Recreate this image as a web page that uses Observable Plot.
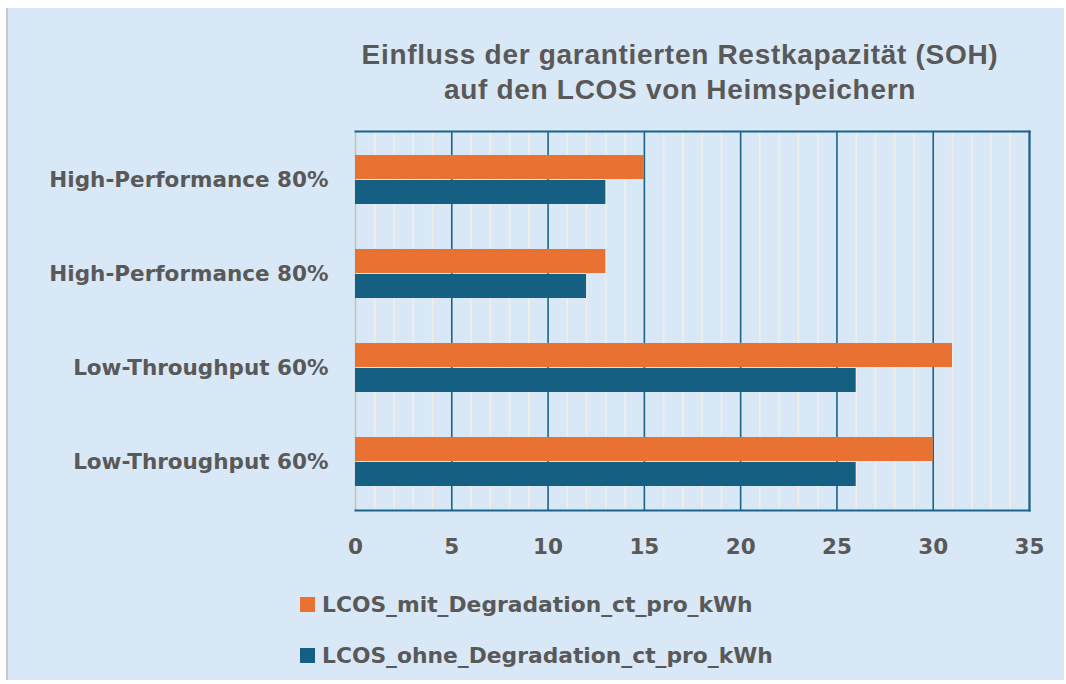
<!DOCTYPE html>
<html><head><meta charset="utf-8">
<script src="https://cdn.jsdelivr.net/npm/d3@7"></script>
<script src="https://cdn.jsdelivr.net/npm/@observablehq/plot@0.6"></script>
<style>
body{margin:0;background:#fff;}
#wrap{position:relative;width:1066px;height:684px;overflow:hidden;background:#fff}
#panel{position:absolute;left:6px;top:8px;width:1056px;height:672px;background:#d9e8f6;border-left:2px solid #c9c9c9}
#title{position:absolute;left:340px;width:680px;top:37px;text-align:center;font-family:"Liberation Sans",Arial,sans-serif;font-weight:700;font-size:28px;letter-spacing:0.7px;line-height:35px;color:#595959}
#chart{position:absolute;left:0;top:0}
.leg{position:absolute;left:300px;font-family:"DejaVu Sans",sans-serif;font-weight:700;font-size:21.8px;color:#595959;display:flex;align-items:center}
.leg span.sw{display:inline-block;width:15px;height:15px;margin-right:7px}
</style></head>
<body>
<div id="wrap">
  <div id="panel"></div>
  <div id="title">Einfluss der garantierten Restkapazität (SOH)<br>auf den LCOS von Heimspeichern</div>
  <div id="chart"></div>
  <div class="leg" style="top:592px"><span class="sw" style="background:#E97132"></span>LCOS_mit_Degradation_ct_pro_kWh</div>
  <div class="leg" style="top:643px"><span class="sw" style="background:#156082"></span>LCOS_ohne_Degradation_ct_pro_kWh</div>
</div>
<script>
const groupIds = ["g1", "g2", "g3", "g4"];
const groupLabels = ["High-Performance 80%", "High-Performance 80%", "Low-Throughput 60%", "Low-Throughput 60%"];
const mitDegradation = [15, 13, 31, 30];
const ohneDegradation = [13, 12, 26, 26];
const xTicks = [0, 5, 10, 15, 20, 25, 30, 35];
const minorTicks = d3.range(0, 36).filter(d => d % 5 !== 0);

const rows = groupIds.map((g, i) => ({g, mit: mitDegradation[i], ohne: ohneDegradation[i]}));
const labelOf = Object.fromEntries(groupIds.map((g, i) => [g, groupLabels[i]]));

const teal = "#1b6389";
const chart = Plot.plot({
  width: 1066,
  height: 600,
  marginLeft: 355,
  marginRight: 37,
  marginTop: 131,
  marginBottom: 90,
  style: {background: "transparent", fontFamily: "'DejaVu Sans', sans-serif", fontSize: "21.5px", fontWeight: 700, color: "#595959"},
  x: {domain: [0, 35], ticks: xTicks, tickSize: 0, tickPadding: 28, label: null},
  y: {domain: groupIds, padding: 0, tickSize: 0, tickPadding: 27, tickFormat: d => labelOf[d], label: null},
  marks: [
    Plot.ruleX(minorTicks, {stroke: "#f2eee6", strokeWidth: 1.5}),
    Plot.ruleX(xTicks.filter(d => d > 0), {stroke: teal, strokeWidth: 1.6}),
    Plot.ruleX([0], {stroke: "#bfbfbf", strokeWidth: 1.5}),
    Plot.barX(rows, {x: "mit", y: "g", fill: "#E97132", insetTop: 22, insetBottom: 48}),
    Plot.barX(rows, {x: "ohne", y: "g", fill: "#156082", insetTop: 47, insetBottom: 23}),
    Plot.frame({anchor: "top", stroke: teal, strokeWidth: 2}),
    Plot.frame({anchor: "bottom", stroke: teal, strokeWidth: 2}),
    Plot.frame({anchor: "right", stroke: teal, strokeWidth: 2})
  ]
});
document.getElementById("chart").appendChild(chart);
</script>
</body></html>
